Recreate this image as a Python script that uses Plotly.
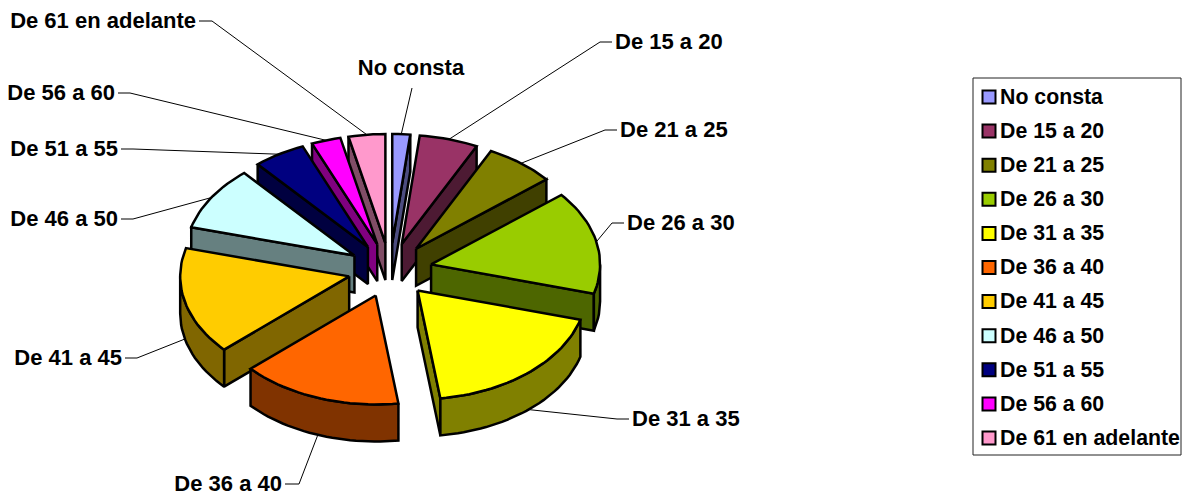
import math
import plotly.graph_objects as go

# ---- data (percent of the total) ----
categories = ["No consta", "De 15 a 20", "De 21 a 25", "De 26 a 30", "De 31 a 35", "De 36 a 40",
              "De 41 a 45", "De 46 a 50", "De 51 a 55", "De 56 a 60", "De 61 en adelante"]
values = [1.7, 5.6, 6.7, 15.3, 18.5, 15.4, 15.9, 9.5, 5.0, 2.8, 3.5]
top_colors = ["#9999FF", "#993366", "#808000", "#99CC00", "#FFFF00", "#FF6600",
              "#FFCC00", "#CCFFFF", "#000080", "#FF00FF", "#FF99CC"]
side_colors = ["#4D4D80", "#4D1A33", "#404000", "#4D6600", "#808000", "#803300",
               "#806600", "#668080", "#000040", "#800080", "#804D66"]

# ---- projection constants of the exploded 3-D pie ----
CX, CY = 390, 270
RX, RY = 169, 109
EXPLODE = 42
DEPTH = 37
EDGE = 2.5

# label anchor: x, y, side of text, elbow x
label_layout = [
    (411, 68, "center", None),
    (615, 42, "right", 600),
    (620, 130, "right", 605),
    (627, 223, "right", 612),
    (632, 419, "right", 617),
    (282, 484, "left", 299),
    (122, 358, "left", 137),
    (118, 219, "left", 133),
    (118, 149, "left", 133),
    (115, 93, "left", 130),
    (196, 21, "left", 212),
]
TEXT_DY = 1.5

LEG_X0, LEG_X1, LEG_Y0, LEG_Y1 = 973, 1181, 78, 455
LEG_SW_X, LEG_TX_X, LEG_ROW0, LEG_STEP = 989, 1000, 97, 34.1
LABEL_FONT = dict(family="Liberation Sans", size=22, color="black", weight=700)
LEGEND_FONT = dict(family="Liberation Sans", size=21.3, color="black", weight=700)

total = sum(values)
spans = []
acc = 0.0
for v in values:
    a0 = acc / total * 360
    acc += v
    spans.append((a0, acc / total * 360))


def apex(i):
    mid = math.radians(sum(spans[i]) / 2)
    return CX + EXPLODE * math.sin(mid), CY - EXPLODE * RY / RX * math.cos(mid)


def rim(i, deg, drop=0.0):
    ax, ay = apex(i)
    t = math.radians(deg)
    return ax + RX * math.sin(t), ay - RY * math.cos(t) + drop


def arc(i, a0, a1, drop=0.0):
    n = max(2, int(abs(a1 - a0) / 2) + 1)
    return [rim(i, a0 + (a1 - a0) * k / (n - 1), drop) for k in range(n)]


def poly(points, color):
    xs = [p[0] for p in points] + [points[0][0]]
    ys = [p[1] for p in points] + [points[0][1]]
    return go.Scatter(x=xs, y=ys, mode="lines", fill="toself", fillcolor=color,
                      line=dict(color="black", width=EDGE, shape="linear"),
                      hoverinfo="skip", showlegend=False)


fig = go.Figure()

# leader lines and labels
for i, (lx, ly, side, elbow) in enumerate(label_layout):
    mid = sum(spans[i]) / 2
    end = rim(i, mid, DEPTH if 90 < mid < 270 else 0)
    if side == "center":
        xs, ys = [lx + 1, end[0]], [ly + 20, end[1]]
        pos = "middle center"
    elif side == "right":
        xs, ys = [lx - 3, elbow, end[0]], [ly, ly, end[1]]
        pos = "middle right"
    else:
        xs, ys = [lx + 3, elbow, end[0]], [ly, ly, end[1]]
        pos = "middle left"
    fig.add_trace(go.Scatter(x=xs, y=ys, mode="lines", line=dict(color="black", width=1),
                             hoverinfo="skip", showlegend=False))
    fig.add_trace(go.Scatter(x=[lx], y=[ly + TEXT_DY], mode="text", text=[categories[i]], textposition=pos,
                             textfont=LABEL_FONT, hoverinfo="skip", showlegend=False, cliponaxis=False))

# slices, back to front
order = sorted(range(len(values)), key=lambda i: (apex(i)[1]
               - RY * 0.5 * math.cos(math.radians(sum(spans[i]) / 2))))
for i in order:
    a0, a1 = spans[i]
    ax, ay = apex(i)
    base = (ax, ay + DEPTH)
    # radial faces turned to the viewer
    if 180 < a0 < 360:
        p, q = rim(i, a0), rim(i, a0, DEPTH)
        fig.add_trace(poly([(ax, ay), p, q, base], side_colors[i]))
    if 0 < a1 < 180:
        p, q = rim(i, a1), rim(i, a1, DEPTH)
        fig.add_trace(poly([(ax, ay), p, q, base], side_colors[i]))
    # outer wall
    w0, w1 = max(a0, 90), min(a1, 270)
    if w1 > w0:
        fig.add_trace(poly(arc(i, w0, w1) + arc(i, w1, w0, DEPTH), side_colors[i]))
    # top surface
    fig.add_trace(poly([(ax, ay)] + arc(i, a0, a1), top_colors[i]))

# legend
rows = [LEG_ROW0 + LEG_STEP * k for k in range(len(categories))]
fig.add_trace(go.Scatter(x=[LEG_SW_X] * len(rows), y=rows, mode="markers",
                         marker=dict(symbol="square", size=13, color=top_colors,
                                     line=dict(color="black", width=2)),
                         hoverinfo="skip", showlegend=False))
fig.add_trace(go.Scatter(x=[LEG_TX_X] * len(rows), y=[r + TEXT_DY for r in rows], mode="text", text=categories,
                         textposition="middle right", textfont=LEGEND_FONT,
                         hoverinfo="skip", showlegend=False, cliponaxis=False))

fig.update_layout(
    width=1182, height=494, margin=dict(l=0, r=0, t=0, b=0),
    paper_bgcolor="white", plot_bgcolor="white", showlegend=False,
    xaxis=dict(range=[0, 1182], visible=False, fixedrange=True),
    yaxis=dict(range=[494, 0], visible=False, fixedrange=True),
    shapes=[dict(type="rect", xref="x", yref="y", x0=LEG_X0, x1=LEG_X1, y0=LEG_Y0, y1=LEG_Y1,
                 line=dict(color="#222222", width=1), layer="below")],
)
fig.write_html("out.html", config={"displayModeBar": False},
               post_script="document.body.style.margin='0';document.body.style.overflow='hidden';")
